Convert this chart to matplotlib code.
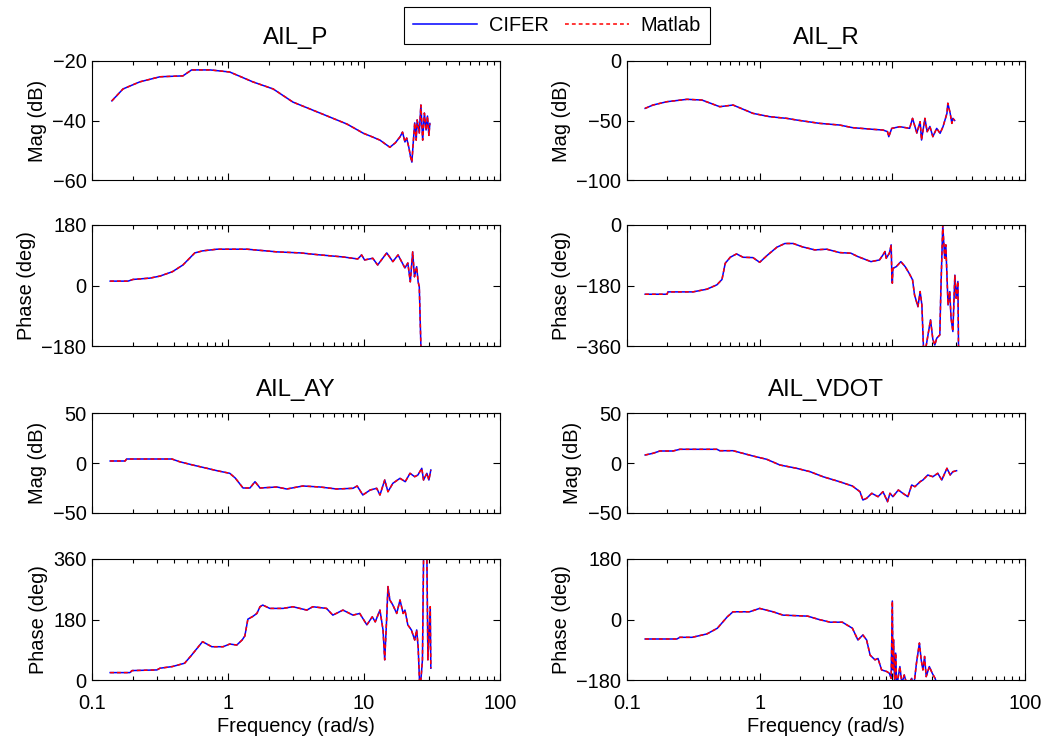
import matplotlib.pyplot as plt
from matplotlib.ticker import LogLocator, NullFormatter, FixedLocator, FixedFormatter

plt.rcParams['font.family'] = ['Liberation Sans', 'DejaVu Sans']
plt.rcParams['font.size'] = 14.4

# CIFER and Matlab responses lie on top of each other, so one array per panel
# AIL_P
p_mag_f = [0.14, 0.169, 0.225, 0.316, 0.466, 0.54, 0.74, 1.03, 1.52, 2.15, 3.0, 4.75, 7.5,
           9.9, 11.5, 13.1, 15.5, 17.0, 18.4, 19.2, 20.0, 20.6, 21.4, 22.0, 22.5, 23.0, 23.6,
           24.2, 24.6, 25.5, 26.2, 27.0, 27.8, 28.6, 29.3, 30.0, 30.5]
p_mag = [-33.4, -29.4, -27, -25.3, -25, -23, -23, -23.7, -27, -29.4, -33.8, -37.5, -41.2,
         -44.3, -45.5, -46.6, -49, -47.5, -45.5, -43.9, -47.2, -45.9, -49.2, -52.3, -54, -47.6,
         -40.8, -46.6, -39.8, -44.2, -34.8, -46.6, -37.5, -43.2, -38.5, -45, -41]
p_ph_f = [0.136, 0.184, 0.2, 0.267, 0.316, 0.39, 0.466, 0.57, 0.65, 0.83, 1.38, 2.3, 3.4,
          4.75, 7.0, 9.0, 9.6, 10.1, 11.6, 12.6, 14.7, 16.3, 17.8, 20.0, 21.0, 21.9, 22.8,
          23.5, 24.4, 25.0, 25.5, 26.2, 26.5]
p_ph = [13, 13, 18, 22, 28, 41, 61, 97, 103, 108, 108, 100, 97, 91, 85, 79, 91, 76, 81, 61,
        97, 71, 91, 52, 67, 11, 100, 26, 56, 11, -4, -180, -220]

# AIL_R
r_mag_f = [0.137, 0.157, 0.2, 0.283, 0.367, 0.5, 0.63, 0.89, 1.19, 1.6, 1.9, 2.83, 4.0, 5.0,
           7.1, 8.5, 9.2, 9.4, 9.9, 11.4, 13.5, 14.2, 15.3, 16.2, 16.6, 17.6, 18.3, 19.2,
           20.2, 21.6, 22.9, 24.1, 25.8, 26.2, 27.3, 28.1, 28.6, 29.5]
r_mag = [-39.8, -37, -34.2, -32.2, -32.8, -38.4, -37, -44, -46.8, -48.2, -49.6, -52.4, -53.8,
         -56, -57.4, -58, -59.4, -63.6, -56.6, -55.2, -56.6, -48.2, -60.5, -51, -66.4, -48.2,
         -59.4, -55, -63.6, -56.6, -60.8, -55.2, -44, -35.5, -44, -52.4, -48.2, -50]
r_ph_f = [0.137, 0.2, 0.204, 0.314, 0.4, 0.476, 0.52, 0.55, 0.6, 0.67, 0.75, 0.89, 1.0, 1.15,
          1.35, 1.55, 1.79, 2.1, 2.6, 3.2, 4.0, 4.88, 5.5, 6.9, 8.0, 8.5, 8.8, 9.0, 9.5, 9.8,
          9.9, 10.0, 10.1, 10.7, 11.6, 12.5, 13.4, 14.2, 14.7, 15.6, 16.2, 16.7, 17.3, 19.4,
          20.2, 20.9, 21.6, 22.8, 23.2, 24.0, 24.8, 25.3, 26.3, 27.1, 27.7, 28.6, 29.6, 30.3,
          31.2, 31.6]
r_ph = [-206, -206, -199, -199, -191, -178, -162, -114, -96, -86, -96, -97, -111, -89, -66,
        -55, -55, -65, -74, -72, -82, -84, -94, -109, -104, -89, -79, -99, -84, -59, -139,
        -173, -129, -124, -109, -124, -144, -163, -208, -243, -198, -238, -400, -282, -340,
        -357, -337, -327, -198, 0, -99, -59, -238, -198, -277, -317, -149, -218, -168, -400]

# AIL_AY
ay_mag_f = [0.136, 0.175, 0.18, 0.387, 0.44, 0.55, 0.7, 0.83, 1.03, 1.13, 1.29, 1.45, 1.58,
            1.72, 2.29, 2.7, 3.55, 4.75, 6.3, 8.3, 8.9, 9.3, 9.8, 11.1, 12.4, 13.1, 14.2, 15.0,
            16.3, 18.4, 20.1, 21.8, 23.6, 24.9, 26.6, 27.4, 29.0, 30.0, 31.0]
ay_mag = [2, 2, 4, 4, 1.3, -2, -5.3, -7.7, -10.3, -15, -25, -25, -18.7, -25, -24, -26, -23,
          -24, -26, -25.3, -23, -27, -32, -27, -25.3, -32, -17, -28.7, -20.3, -15.3, -18.7,
          -10.3, -13.7, -12, -5.3, -17, -10.3, -17, -7]
ay_ph_f = [0.136, 0.19, 0.197, 0.3, 0.316, 0.39, 0.48, 0.54, 0.62, 0.65, 0.76, 0.92, 1.03,
           1.16, 1.27, 1.33, 1.4, 1.52, 1.63, 1.72, 1.8, 2.03, 2.54, 3.0, 3.8, 4.2, 5.3, 5.9,
           7.0, 8.3, 9.3, 10.5, 11.5, 12.1, 13.1, 13.8, 14.2, 14.7, 15.0, 15.5, 16.3, 17.4,
           18.4, 19.4, 20.0, 21.0, 22.3, 23.6, 24.4, 25.0, 25.7, 26.2, 26.9, 27.4, 28.0, 29.0,
           29.5, 30.7, 31.0]
ay_ph = [22, 22, 28, 30, 35, 40, 50, 74, 104, 114, 99, 99, 107, 104, 119, 131, 181, 189,
         198, 218, 223, 213, 213, 218, 208, 218, 213, 193, 208, 193, 198, 164, 188, 173, 208,
         149, 60, 188, 278, 238, 223, 198, 238, 198, 208, 164, 149, 119, 149, 99, -20, 0, 60,
         357, 380, 370, 60, 218, 35]

# AIL_VDOT
v_mag_f = [0.137, 0.157, 0.177, 0.222, 0.25, 0.476, 0.5, 0.63, 0.89, 1.13, 1.42, 1.9, 2.4,
           3.0, 4.0, 5.0, 5.7, 6.0, 6.4, 7.0, 7.8, 8.5, 9.2, 9.6, 10.1, 11.1, 12.0, 13.1,
           14.0, 14.8, 16.2, 17.0, 18.5, 20.2, 22.0, 23.6, 25.8, 27.3, 28.6, 30.5]
v_mag = [8, 9.7, 12, 12, 13.7, 13.7, 12.3, 12.3, 7, 3.7, -2, -5.3, -8.7, -13.7, -18.7, -23,
         -28.7, -37, -35.3, -30.3, -33.7, -28.7, -38.7, -30.3, -33.7, -27, -30.3, -33.7, -22,
         -23.7, -18.7, -17, -12, -13.7, -10.3, -17, -5.3, -12, -8.7, -7.7]
v_ph_f = [0.137, 0.238, 0.25, 0.31, 0.4, 0.48, 0.57, 0.63, 0.84, 1.0, 1.26, 1.5, 2.3, 2.8,
          3.4, 4.2, 5.0, 5.5, 6.0, 6.4, 6.8, 7.4, 7.8, 8.3, 9.1, 9.5, 9.8, 10.0, 10.1, 10.2,
          10.4, 10.6, 10.8, 11.4, 11.8, 12.3, 13.0, 14.0, 14.5, 15.2, 16.0, 16.5, 17.0, 17.5,
          18.0, 19.0, 20.0, 21.0, 22.0]
v_ph = [-58, -58, -53, -53, -43, -26, 8, 23, 23, 33, 23, 13, 10, 0, -8, -8, -26, -61, -46,
        -61, -106, -120, -116, -150, -155, -160, -175, 55, -150, -60, -190, -100, -200, -140,
        -190, -165, -200, -175, -200, -130, -70, -120, -150, -110, -170, -140, -160, -175,
        -200]

panels = [
    ('AIL_P', p_mag_f, p_mag, (-60, -20), [-60, -40, -20], p_ph_f, p_ph, (-180, 180), [-180, 0, 180]),
    ('AIL_R', r_mag_f, r_mag, (-100, 0), [-100, -50, 0], r_ph_f, r_ph, (-360, 0), [-360, -180, 0]),
    ('AIL_AY', ay_mag_f, ay_mag, (-50, 50), [-50, 0, 50], ay_ph_f, ay_ph, (0, 360), [0, 180, 360]),
    ('AIL_VDOT', v_mag_f, v_mag, (-50, 50), [-50, 0, 50], v_ph_f, v_ph, (-180, 180), [-180, 0, 180]),
]

W, H = 1057, 739
fig = plt.figure(figsize=(W / 100, H / 100), dpi=100)

col_x = [(92, 408), (627, 398)]
row_y = [(61, 180), (225, 346), (413, 513), (559, 680)]


def make_ax(col, row):
    x0, w = col_x[col]
    top, bot = row_y[row]
    return fig.add_axes([x0 / W, 1 - bot / H, w / W, (bot - top) / H])


def style(ax, ylim, yticks, bottom):
    ax.set_xscale('log')
    ax.set_xlim(0.1, 100)
    ax.set_ylim(*ylim)
    ax.yaxis.set_major_locator(FixedLocator(yticks))
    ax.xaxis.set_major_locator(FixedLocator([0.1, 1, 10, 100]))
    ax.xaxis.set_minor_locator(LogLocator(base=10, subs=range(2, 10), numticks=10))
    ax.xaxis.set_minor_formatter(NullFormatter())
    if bottom:
        ax.xaxis.set_major_formatter(FixedFormatter(['0.1', '1', '10', '100']))
        ax.set_xlabel('Frequency (rad/s)', labelpad=3)
    else:
        ax.xaxis.set_major_formatter(NullFormatter())
    ax.tick_params(which='both', direction='in', top=True, right=True, pad=4)
    ax.tick_params(axis='x', pad=10)
    ax.tick_params(which='major', length=5, width=0.8)
    ax.tick_params(which='minor', length=3, width=0.8)
    for s in ax.spines.values():
        s.set_linewidth(0.8)


def draw(ax, f, v):
    ax.plot(f, v, color='blue', lw=1.1, label='CIFER')
    ax.plot(f, v, color='red', lw=1.1, dashes=(2.5, 2), label='Matlab')


for i, (name, mf, mv, mlim, mt, pf, pv, plim, pt) in enumerate(panels):
    col = i % 2
    r0 = (i // 2) * 2
    ax_m = make_ax(col, r0)
    draw(ax_m, mf, mv)
    style(ax_m, mlim, mt, False)
    ax_m.set_ylabel('Mag (dB)', labelpad=4)
    ax_m.set_title(name, pad=12)

    ax_p = make_ax(col, r0 + 1)
    draw(ax_p, pf, pv)
    style(ax_p, plim, pt, r0 + 1 == 3)
    ax_p.set_ylabel('Phase (deg)', labelpad=4)

    if i == 0:
        handles, labels = ax_m.get_legend_handles_labels()

leg = fig.legend(handles, labels, loc='upper center', bbox_to_anchor=(557 / W, 1 - 7 / H),
                 ncol=2, handlelength=3.2, columnspacing=0.8, handletextpad=0.6,
                 fancybox=False, edgecolor='black', framealpha=1, borderpad=0.45,
                 borderaxespad=0)
leg.get_frame().set_linewidth(0.8)

fig.savefig('out.png', dpi=100, facecolor='white')
